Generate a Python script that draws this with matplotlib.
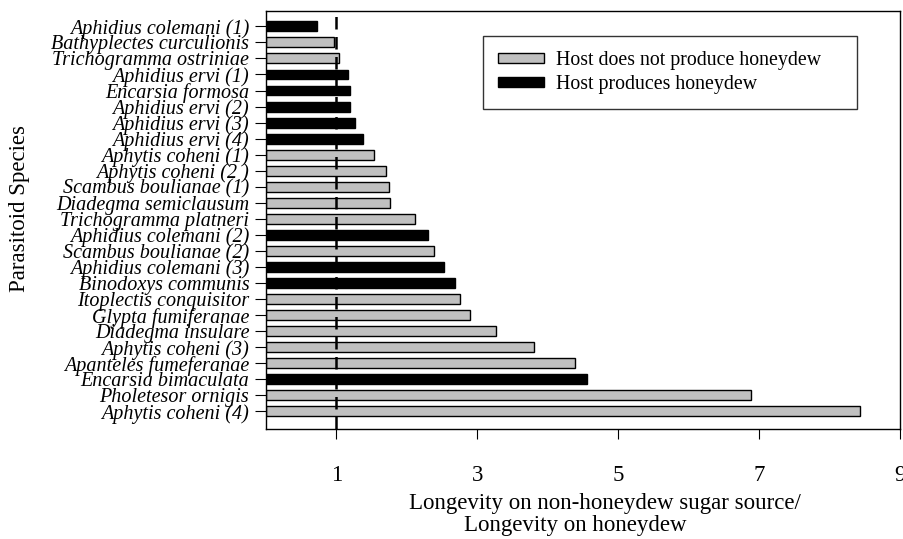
import matplotlib
matplotlib.use('Agg')
import matplotlib.pyplot as plt
from matplotlib.patches import Patch

# Data (top to bottom as in the chart)
SPECIES = ['Aphidius colemani (1)', 'Bathyplectes curculionis', 'Trichogramma ostriniae',
           'Aphidius ervi (1)', 'Encarsia formosa', 'Aphidius ervi (2)', 'Aphidius ervi (3)',
           'Aphidius ervi (4)', 'Aphytis coheni (1)', 'Aphytis coheni (2 )',
           'Scambus boulianae (1)', 'Diadegma semiclausum', 'Trichogramma platneri',
           'Aphidius colemani (2)', 'Scambus boulianae (2)', 'Aphidius colemani (3)',
           'Binodoxys communis', 'Itoplectis conquisitor', 'Glypta fumiferanae',
           'Diadegma insulare', 'Aphytis coheni (3)', 'Apanteles fumeferanae',
           'Encarsia bimaculata', 'Pholetesor ornigis', 'Aphytis coheni (4)']
RATIO = [0.73, 0.96, 1.04, 1.17, 1.19, 1.20, 1.26, 1.38, 1.53, 1.70, 1.75, 1.76,
         2.12, 2.30, 2.39, 2.53, 2.68, 2.75, 2.90, 3.26, 3.80, 4.39, 4.55, 6.89, 8.43]
HONEYDEW = [1, 0, 0, 1, 1, 1, 1, 1, 0, 0, 0, 0,
            0, 1, 0, 1, 1, 0, 0, 0, 0, 0, 1, 0, 0]

X_TICKS = [1, 3, 5, 7, 9]

plt.rcParams['font.family'] = ['Liberation Serif', 'DejaVu Serif']

W, H = 904, 539
fig = plt.figure(figsize=(W / 100, H / 100), dpi=100)
ax = fig.add_axes([0.2942, 0.204, 0.7014, 0.776])

colors = ['black' if h else '#c0c0c0' for h in HONEYDEW]
ypos = list(range(len(SPECIES)))
ax.barh(ypos, RATIO, height=0.62, color=colors, edgecolor='black', linewidth=1.0)

# reference line at ratio = 1
ax.axvline(1, color='black', linestyle=(0, (5, 3)), linewidth=1.8, zorder=3)

ax.set_xlim(0, 9)
ax.set_ylim(25.1, -0.97)
ax.set_xticks(X_TICKS)
ax.set_xticklabels([str(t) for t in X_TICKS], fontsize=16.5)
ax.set_yticks(ypos)
ax.set_yticklabels(SPECIES, fontsize=14.5, style='italic')
ax.tick_params(axis='x', direction='out', length=7, pad=19)
ax.tick_params(axis='y', direction='out', length=8, pad=4)
for s in ax.spines.values():
    s.set_linewidth(1.0)

# axis titles (second x line sits left of centre, as in the source)
fig.text(605 / W, 1 - 503 / H, 'Longevity on non-honeydew sugar source/',
         fontsize=16.5, ha='center', va='center')
fig.text(575 / W, 1 - 526 / H, 'Longevity on honeydew',
         fontsize=16.5, ha='center', va='center')
fig.text(20 / W, 1 - 209 / H, 'Parasitoid Species', fontsize=16.5,
         rotation=90, ha='center', va='center')

handles = [Patch(facecolor='#c0c0c0', edgecolor='black', label='Host does not produce honeydew'),
           Patch(facecolor='black', edgecolor='black', label='Host produces honeydew')]
leg = ax.legend(handles=handles, loc='upper left',
                bbox_to_anchor=(0.342, 0.9395, 0.590, 0.0), mode='expand',
                fontsize=14.3, frameon=True, fancybox=False, edgecolor='black',
                borderpad=0.76, handlelength=2.3, handleheight=0.37,
                handletextpad=0.65, borderaxespad=0, labelspacing=0.26)
leg.get_frame().set_linewidth(1.0)

fig.savefig('out.png', dpi=100)
